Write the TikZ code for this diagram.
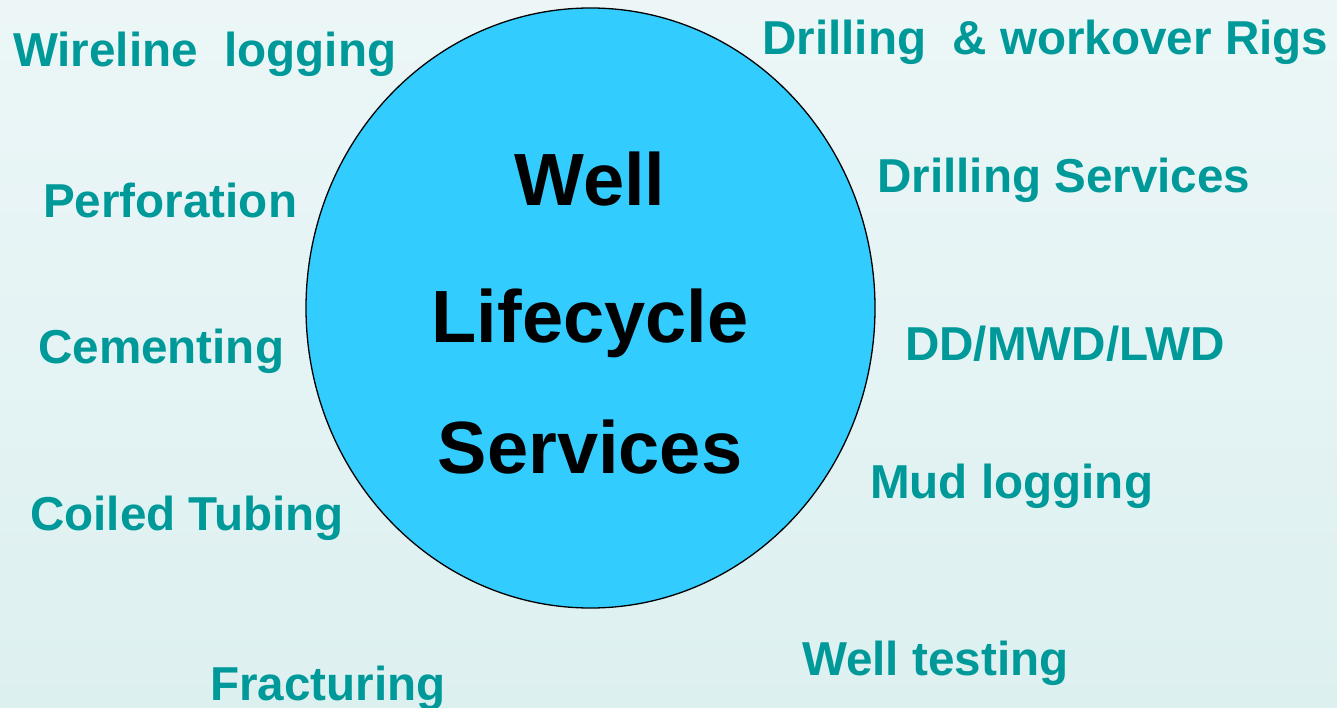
\documentclass[tikz,border=0pt]{standalone}
\usepackage{fontspec}
\setmainfont{Liberation Sans}
\usepackage{tikz}
\usetikzlibrary{shapes.geometric}
\usetikzlibrary{positioning}
\definecolor{teal}{HTML}{009999}
\definecolor{sky}{HTML}{33CCFF}
\definecolor{paletop}{RGB}{236,246,247}
\definecolor{palebot}{RGB}{221,240,240}
\tikzset{	x=1pt, y=-1pt,
	hub/.style={
		ellipse,
		draw=black,
		line width=1.3pt,
		fill=sky,
		minimum width=569pt,
		minimum height=600pt,
		inner sep=0pt},
	title/.style={
		anchor=base,
		inner sep=0pt,
		font=\fontsize{74}{80}\selectfont\bfseries},
	service/.style={
		anchor=base west,
		inner sep=0pt,
		text=teal,
		font=\fontsize{47.6}{56}\selectfont\bfseries}
}

\begin{document}
\begin{tikzpicture}
	\useasboundingbox (0,0) rectangle (1337,708);
	\shade[top color=paletop, bottom color=palebot] (0,0) rectangle (1337,708);
	\node[hub] (hub) at (590.5,308) {};
	\node[title] (well) at (590,206) {Well};
	\node[title] (life) at (590,342) {Lifecycle};
	\node[title] (serv) at (590,473) {Services};
	\node[service] (wireline) at (13,67) {Wireline\ \ logging};
	\node[service] (rigs) at (762,55) {Drilling\ \ \& workover Rigs};
	\node[service] (perf) at (43,218) {Perforation};
	\node[service] (drill) at (877,193) {Drilling Services};
	\node[service] (cement) at (38,363) {Cementing};
	\node[service] (mwd) at (905,360) {DD/MWD/LWD};
	\node[service] (mud) at (870,498) {Mud logging};
	\node[service] (coiled) at (30,530) {Coiled Tubing};
	\node[service] (test) at (802,675) {Well testing};
	\node[service] (frac) at (210,700) {Fracturing};
\end{tikzpicture}
\end{document}
